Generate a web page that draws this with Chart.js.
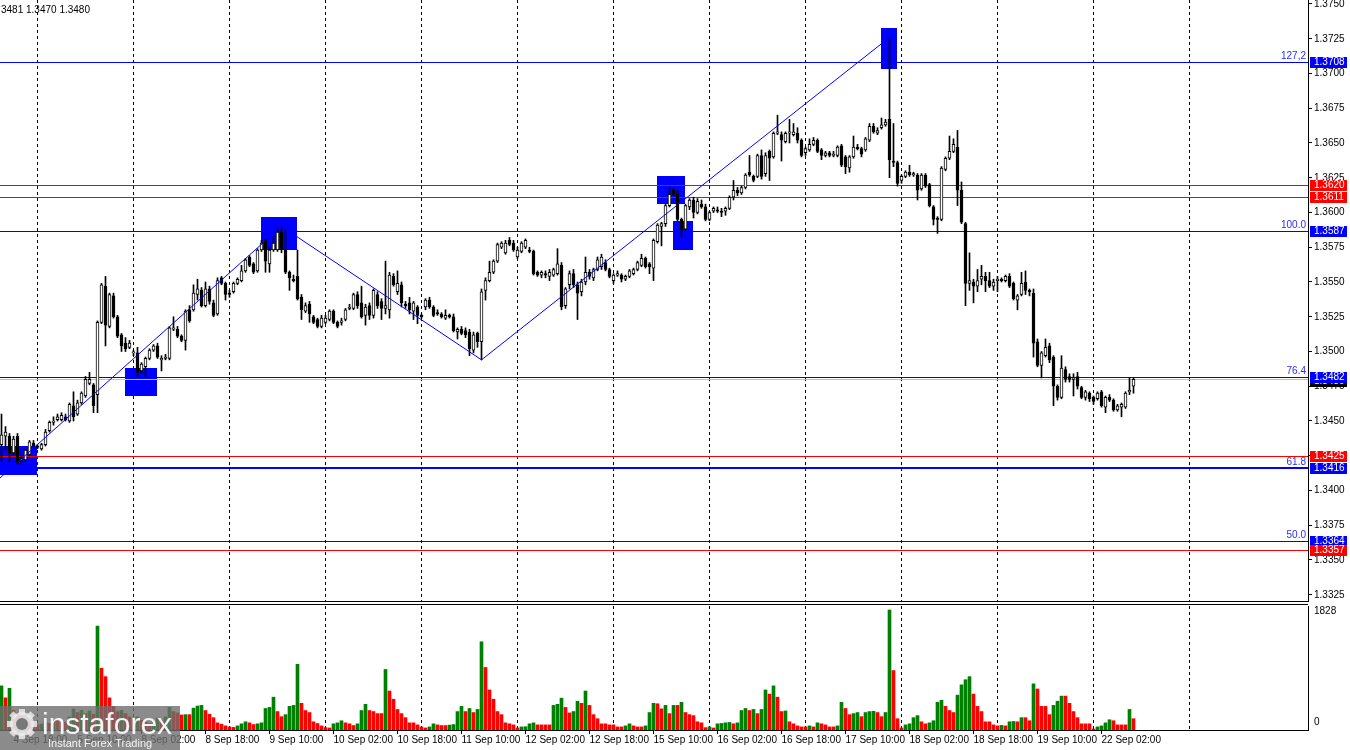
<!DOCTYPE html>
<html>
<head>
<meta charset="utf-8">
<title>GBPUSD H1</title>
<script src="https://cdn.jsdelivr.net/npm/chart.js@4.4.1/dist/chart.umd.min.js"></script>
<style>
    html, body { margin: 0; padding: 0; background: #fff; }
    #wrap { position: relative; width: 1350px; height: 750px; overflow: hidden; background: #fff; }
    #price { position: absolute; left: 0; top: 0; }
    #vol { position: absolute; left: 0; top: 603px; }
</style>
</head>
<body>
<div id="wrap">
    <canvas id="price" width="1350" height="603" style="width:1350px;height:603px"></canvas>
    <canvas id="vol" width="1350" height="147" style="width:1350px;height:147px"></canvas>
</div>
<script>
'use strict'

// H1 candles, index 0 = 4 Sep 15:00 ... index 283 = 22 Sep 10:00
var opens = [
    1.3433,1.3439,1.3439,1.3427,1.3439,1.3422,1.3422,1.3426,1.3434,1.3432,
    1.3430,1.3433,1.3443,1.3449,1.3451,1.3451,1.3453,1.3450,1.3461,1.3455,
    1.3463,1.3468,1.3477,1.3476,1.3469,1.3521,1.3547,1.3518,1.3540,1.3525,
    1.3512,1.3506,1.3503,1.3499,1.3499,1.3486,1.3489,1.3495,1.3501,1.3504,
    1.3494,1.3495,1.3495,1.3516,1.3516,1.3511,1.3508,1.3530,1.3530,1.3541,
    1.3544,1.3533,1.3545,1.3535,1.3527,1.3553,1.3549,1.3542,1.3543,1.3549,
    1.3551,1.3558,1.3568,1.3563,1.3558,1.3573,1.3580,1.3563,1.3573,1.3573,
    1.3586,1.3573,1.3557,1.3552,1.3554,1.3539,1.3529,1.3534,1.3525,1.3523,
    1.3518,1.3521,1.3523,1.3529,1.3521,1.3521,1.3523,1.3531,1.3531,1.3541,
    1.3535,1.3526,1.3533,1.3526,1.3541,1.3536,1.3531,1.3530,1.3554,1.3543,
    1.3548,1.3534,1.3535,1.3529,1.3532,1.3526,1.3532,1.3537,1.3532,1.3528,
    1.3527,1.3524,1.3526,1.3525,1.3514,1.3516,1.3515,1.3514,1.3501,1.3513,
    1.3507,1.3544,1.3551,1.3557,1.3565,1.3575,1.3571,1.3580,1.3578,1.3568,
    1.3572,1.3575,1.3573,1.3572,1.3557,1.3555,1.3556,1.3554,1.3555,1.3556,
    1.3562,1.3533,1.3548,1.3556,1.3548,1.3543,1.3550,1.3557,1.3553,1.3559,
    1.3561,1.3564,1.3559,1.3551,1.3555,1.3555,1.3552,1.3554,1.3556,1.3559,
    1.3562,1.3567,1.3563,1.3560,1.3579,1.3590,1.3592,1.3605,1.3616,1.3614,
    1.3595,1.3588,1.3604,1.3609,1.3600,1.3606,1.3604,1.3595,1.3601,1.3602,
    1.3601,1.3601,1.3603,1.3611,1.3616,1.3614,1.3618,1.3629,1.3626,1.3626,
    1.3641,1.3628,1.3644,1.3640,1.3657,1.3656,1.3651,1.3657,1.3656,1.3657,
    1.3652,1.3643,1.3645,1.3649,1.3652,1.3645,1.3641,1.3643,1.3641,1.3641,
    1.3648,1.3640,1.3632,1.3640,1.3647,1.3646,1.3645,1.3652,1.3662,1.3657,
    1.3661,1.3663,1.3667,1.3637,1.3636,1.3623,1.3626,1.3629,1.3627,1.3627,
    1.3617,1.3627,1.3620,1.3604,1.3596,1.3595,1.3631,1.3639,1.3644,1.3647,
    1.3616,1.3592,1.3549,1.3550,1.3547,1.3552,1.3554,1.3551,1.3547,1.3551,
    1.3552,1.3551,1.3554,1.3549,1.3537,1.3541,1.3550,1.3544,1.3542,1.3507,
    1.3490,1.3497,1.3504,1.3496,1.3475,1.3467,1.3487,1.3482,1.3480,1.3482,
    1.3474,1.3467,1.3470,1.3467,1.3466,1.3471,1.3460,1.3467,1.3465,1.3458,
    1.3460,1.3460,1.3471,1.3475
];
var highs = [
    1.3455,1.3446,1.3441,1.3439,1.3441,1.3425,1.3430,1.3436,1.3436,1.3433,
    1.3434,1.3444,1.3450,1.3453,1.3455,1.3456,1.3455,1.3463,1.3471,1.3465,
    1.3471,1.3482,1.3485,1.3477,1.3522,1.3549,1.3554,1.3542,1.3542,1.3526,
    1.3513,1.3510,1.3508,1.3501,1.3503,1.3492,1.3496,1.3502,1.3505,1.3506,
    1.3497,1.3498,1.3518,1.3525,1.3518,1.3512,1.3530,1.3533,1.3548,1.3552,
    1.3546,1.3550,1.3547,1.3537,1.3553,1.3554,1.3550,1.3544,1.3550,1.3553,
    1.3562,1.3567,1.3569,1.3564,1.3574,1.3580,1.3581,1.3575,1.3583,1.3589,
    1.3590,1.3587,1.3558,1.3555,1.3573,1.3541,1.3535,1.3536,1.3526,1.3524,
    1.3526,1.3526,1.3530,1.3530,1.3522,1.3524,1.3531,1.3534,1.3542,1.3543,
    1.3547,1.3534,1.3535,1.3545,1.3543,1.3538,1.3565,1.3557,1.3556,1.3558,
    1.3550,1.3536,1.3539,1.3536,1.3533,1.3527,1.3538,1.3539,1.3533,1.3530,
    1.3528,1.3530,1.3527,1.3527,1.3517,1.3518,1.3517,1.3516,1.3514,1.3514,
    1.3545,1.3553,1.3565,1.3566,1.3578,1.3579,1.3580,1.3582,1.3580,1.3575,
    1.3579,1.3581,1.3575,1.3573,1.3558,1.3558,1.3558,1.3559,1.3560,1.3574,
    1.3564,1.3546,1.3558,1.3559,1.3550,1.3552,1.3568,1.3559,1.3560,1.3568,
    1.3570,1.3566,1.3560,1.3556,1.3558,1.3556,1.3555,1.3559,1.3560,1.3565,
    1.3570,1.3568,1.3564,1.3581,1.3592,1.3593,1.3606,1.3618,1.3618,1.3616,
    1.3596,1.3606,1.3610,1.3611,1.3610,1.3609,1.3606,1.3601,1.3604,1.3604,
    1.3603,1.3604,1.3612,1.3623,1.3618,1.3619,1.3628,1.3641,1.3627,1.3642,
    1.3645,1.3643,1.3645,1.3658,1.3670,1.3658,1.3658,1.3667,1.3664,1.3661,
    1.3653,1.3647,1.3653,1.3654,1.3653,1.3646,1.3644,1.3644,1.3644,1.3648,
    1.3649,1.3641,1.3641,1.3655,1.3649,1.3647,1.3654,1.3664,1.3664,1.3661,
    1.3668,1.3667,1.3725,1.3664,1.3637,1.3627,1.3630,1.3634,1.3629,1.3628,
    1.3628,1.3628,1.3621,1.3605,1.3597,1.3633,1.3640,1.3655,1.3653,1.3659,
    1.3622,1.3593,1.3571,1.3552,1.3559,1.3562,1.3557,1.3557,1.3552,1.3554,
    1.3553,1.3555,1.3556,1.3550,1.3541,1.3557,1.3558,1.3545,1.3545,1.3509,
    1.3500,1.3509,1.3506,1.3497,1.3476,1.3497,1.3489,1.3484,1.3484,1.3485,
    1.3475,1.3472,1.3471,1.3468,1.3471,1.3472,1.3468,1.3469,1.3466,1.3462,
    1.3463,1.3471,1.3481,1.3481
];
var lows = [
    1.3421,1.3429,1.3421,1.3425,1.3419,1.3419,1.3421,1.3425,1.3431,1.3430,
    1.3429,1.3432,1.3442,1.3447,1.3450,1.3450,1.3450,1.3449,1.3450,1.3454,
    1.3462,1.3467,1.3476,1.3456,1.3456,1.3520,1.3504,1.3517,1.3524,1.3510,
    1.3500,1.3500,1.3502,1.3497,1.3482,1.3484,1.3482,1.3494,1.3500,1.3495,
    1.3486,1.3494,1.3494,1.3515,1.3510,1.3507,1.3501,1.3521,1.3529,1.3537,
    1.3532,1.3532,1.3534,1.3525,1.3526,1.3548,1.3537,1.3539,1.3542,1.3548,
    1.3550,1.3557,1.3561,1.3556,1.3557,1.3572,1.3557,1.3557,1.3572,1.3572,
    1.3571,1.3556,1.3544,1.3550,1.3537,1.3523,1.3528,1.3521,1.3520,1.3517,
    1.3517,1.3520,1.3522,1.3520,1.3517,1.3519,1.3522,1.3530,1.3530,1.3531,
    1.3524,1.3519,1.3523,1.3524,1.3531,1.3523,1.3527,1.3524,1.3547,1.3541,
    1.3532,1.3531,1.3527,1.3523,1.3520,1.3524,1.3530,1.3531,1.3525,1.3526,
    1.3524,1.3523,1.3524,1.3514,1.3509,1.3512,1.3510,1.3497,1.3499,1.3503,
    1.3494,1.3537,1.3550,1.3556,1.3564,1.3574,1.3570,1.3576,1.3572,1.3567,
    1.3571,1.3574,1.3571,1.3555,1.3554,1.3553,1.3553,1.3551,1.3554,1.3555,
    1.3530,1.3531,1.3545,1.3546,1.3523,1.3540,1.3548,1.3552,1.3551,1.3558,
    1.3559,1.3558,1.3553,1.3549,1.3554,1.3550,1.3551,1.3553,1.3555,1.3558,
    1.3561,1.3560,1.3556,1.3551,1.3578,1.3576,1.3590,1.3604,1.3612,1.3594,
    1.3582,1.3587,1.3602,1.3596,1.3599,1.3603,1.3594,1.3594,1.3600,1.3600,
    1.3597,1.3598,1.3602,1.3609,1.3612,1.3613,1.3617,1.3626,1.3622,1.3625,
    1.3624,1.3626,1.3623,1.3639,1.3656,1.3637,1.3650,1.3650,1.3655,1.3650,
    1.3640,1.3641,1.3644,1.3648,1.3643,1.3638,1.3640,1.3640,1.3640,1.3640,
    1.3633,1.3628,1.3629,1.3639,1.3645,1.3640,1.3644,1.3651,1.3657,1.3656,
    1.3660,1.3662,1.3625,1.3633,1.3619,1.3621,1.3625,1.3626,1.3626,1.3609,
    1.3616,1.3618,1.3604,1.3591,1.3585,1.3594,1.3630,1.3638,1.3643,1.3605,
    1.3592,1.3533,1.3544,1.3535,1.3543,1.3548,1.3543,1.3546,1.3544,1.3543,
    1.3550,1.3550,1.3546,1.3537,1.3530,1.3540,1.3541,1.3540,1.3496,1.3489,
    1.3481,1.3496,1.3492,1.3461,1.3465,1.3466,1.3478,1.3478,1.3468,1.3473,
    1.3466,1.3465,1.3464,1.3462,1.3465,1.3460,1.3456,1.3464,1.3457,1.3457,
    1.3453,1.3459,1.3469,1.3470
];
var closes = [
    1.3440,1.3442,1.3427,1.3437,1.3420,1.3423,1.3429,1.3435,1.3432,1.3431,
    1.3433,1.3442,1.3449,1.3450,1.3453,1.3454,1.3451,1.3462,1.3453,1.3463,
    1.3470,1.3480,1.3480,1.3461,1.3521,1.3548,1.3519,1.3541,1.3525,1.3511,
    1.3504,1.3502,1.3506,1.3499,1.3485,1.3491,1.3495,1.3501,1.3504,1.3496,
    1.3495,1.3496,1.3517,1.3517,1.3511,1.3508,1.3529,1.3522,1.3542,1.3545,
    1.3533,1.3545,1.3536,1.3526,1.3551,1.3549,1.3541,1.3541,1.3549,1.3552,
    1.3558,1.3566,1.3562,1.3557,1.3573,1.3578,1.3565,1.3573,1.3578,1.3586,
    1.3573,1.3557,1.3553,1.3551,1.3538,1.3530,1.3533,1.3527,1.3521,1.3518,
    1.3524,1.3524,1.3529,1.3521,1.3518,1.3522,1.3530,1.3532,1.3541,1.3533,
    1.3525,1.3532,1.3526,1.3544,1.3533,1.3531,1.3533,1.3555,1.3548,1.3549,
    1.3535,1.3533,1.3530,1.3535,1.3526,1.3525,1.3537,1.3532,1.3526,1.3527,
    1.3525,1.3526,1.3525,1.3515,1.3516,1.3513,1.3512,1.3502,1.3512,1.3507,
    1.3543,1.3551,1.3557,1.3565,1.3577,1.3578,1.3578,1.3577,1.3573,1.3573,
    1.3578,1.3580,1.3572,1.3556,1.3555,1.3557,1.3555,1.3557,1.3559,1.3563,
    1.3532,1.3545,1.3556,1.3548,1.3542,1.3550,1.3557,1.3554,1.3559,1.3566,
    1.3568,1.3559,1.3554,1.3555,1.3556,1.3552,1.3554,1.3558,1.3559,1.3564,
    1.3567,1.3561,1.3561,1.3580,1.3591,1.3592,1.3605,1.3613,1.3613,1.3595,
    1.3588,1.3605,1.3609,1.3600,1.3608,1.3604,1.3595,1.3600,1.3603,1.3601,
    1.3600,1.3603,1.3611,1.3616,1.3614,1.3618,1.3627,1.3627,1.3623,1.3641,
    1.3626,1.3641,1.3639,1.3657,1.3658,1.3652,1.3657,1.3658,1.3658,1.3652,
    1.3641,1.3646,1.3649,1.3652,1.3644,1.3641,1.3643,1.3641,1.3642,1.3647,
    1.3634,1.3633,1.3640,1.3647,1.3646,1.3642,1.3653,1.3662,1.3658,1.3659,
    1.3663,1.3665,1.3638,1.3636,1.3621,1.3626,1.3629,1.3627,1.3628,1.3616,
    1.3627,1.3619,1.3605,1.3595,1.3595,1.3632,1.3639,1.3644,1.3649,1.3616,
    1.3593,1.3549,1.3551,1.3547,1.3551,1.3554,1.3551,1.3547,1.3550,1.3552,
    1.3551,1.3554,1.3547,1.3538,1.3540,1.3549,1.3544,1.3543,1.3506,1.3490,
    1.3499,1.3503,1.3494,1.3475,1.3467,1.3488,1.3480,1.3480,1.3481,1.3475,
    1.3467,1.3471,1.3466,1.3464,1.3470,1.3461,1.3467,1.3465,1.3458,1.3461,
    1.3462,1.3470,1.3472,1.3480
];
var volumes = [
    672,490,636,300,260,200,150,120,100,80,
    90,120,100,150,140,130,120,200,318,266,
    300,250,290,240,1583,942,813,490,360,280,
    300,250,200,150,200,150,120,100,130,180,
    150,200,344,281,260,229,234,234,333,365,
    375,297,240,188,109,89,63,47,40,63,
    94,125,109,83,94,109,328,344,500,281,
    203,234,360,375,1000,406,297,266,125,99,
    63,36,31,94,109,141,109,94,68,94,
    297,391,297,281,250,250,922,594,469,313,
    250,188,109,109,78,47,31,47,94,78,
    68,68,75,83,281,360,281,328,266,313,
    1344,953,610,469,281,234,109,94,78,31,
    47,50,94,109,78,78,78,78,375,391,
    485,344,260,281,438,406,594,375,234,172,
    94,94,78,78,47,47,63,94,63,47,
    47,63,266,406,400,322,375,250,375,375,
    422,266,234,219,125,109,36,47,31,94,
    100,110,115,94,109,297,328,297,313,250,
    313,610,547,672,500,281,290,125,94,63,
    47,47,63,47,109,94,78,47,47,63,
    422,328,234,250,266,203,266,281,285,266,
    203,266,1828,906,172,31,78,94,188,219,
    125,94,109,141,422,453,360,297,266,531,
    688,766,813,547,360,281,125,125,78,63,
    70,63,125,130,125,188,188,141,703,625,
    360,360,234,375,438,516,516,406,281,188,
    94,94,94,16,47,63,109,156,141,78,
    78,78,313,172
];

var priceTicks = [1.3325,1.3350,1.3375,1.3400,1.3425,1.3450,1.3475,1.3500,1.3525,1.3550,
                  1.3575,1.3600,1.3625,1.3650,1.3675,1.3700,1.3725,1.3750];
var timeTickIdx = [3,19,35,51,67,83,99,115,131,147,163,179,195,211,227,243,259,275];
var timeTickLabels = ['4 Sep 18:00','5 Sep 10:00','8 Sep 02:00','8 Sep 18:00','9 Sep 10:00',
    '10 Sep 02:00','10 Sep 18:00','11 Sep 10:00','12 Sep 02:00','12 Sep 18:00','15 Sep 10:00',
    '16 Sep 02:00','16 Sep 18:00','17 Sep 10:00','18 Sep 02:00','18 Sep 18:00','19 Sep 10:00',
    '22 Sep 02:00'];
var dayLineIdx = [9,33,57,81,105,129,153,177,201,225,249,273,297];

var fibPrices = [1.3708,1.3587,1.3482,1.3416,1.3364];
var fibNames = ['127,2','100.0','76.4','61.8','50.0'];
var redPrices = [1.3620,1.3611,1.3425,1.3357];
var bidPrice = 1.3480;

var zigzagIdx = [-0.375,70,120,222];
var zigzagPrice = [1.3409,1.3590,1.3494,1.3726];

var zoneFrom = [-0.375,30.875,64.875,163.875,167.875,219.875];
var zoneTo = [8.875,38.875,73.875,170.875,172.875,223.875];
var zoneTop = [1.3432,1.3488,1.3597,1.3626,1.3594,1.3733];
var zoneBottom = [1.3411,1.3468,1.3573,1.3606,1.3573,1.3703];

var headerText = '3481 1.3470 1.3480';
var volTopLabel = 1828;

(function () {

    var FONT = 'Liberation Sans';
    Chart.defaults.font.family = FONT;
    Chart.defaults.font.size = 10;
    Chart.defaults.color = '#000';

    var X_MIN = -0.375, X_MAX = 326.625;
    var Y_MAX = 1.3750 + 4 / 13900;
    var Y_MIN = Y_MAX - 601 / 13900;
    var VOL_MAX = 1828 * 124 / 120;

    var BLUE = '#0000ff', RED = '#ff0000';

    var wickData = opens.map(function (o, i) {
        return { x: i, y: [Math.min(lows[i], o, closes[i]), Math.max(highs[i], o, closes[i])] };
    });
    var bodyData = opens.map(function (o, i) {
        return { x: i, y: [o, closes[i]] };
    });
    var zigzagData = zigzagIdx.map(function (x, i) {
        return { x: x, y: zigzagPrice[i] };
    });

    function hline(ctx, x1, x2, y) {
        ctx.beginPath(); ctx.moveTo(x1, y); ctx.lineTo(x2, y); ctx.stroke();
    }

    function dayLines(chart) {
        var ctx = chart.ctx, a = chart.chartArea, xs = chart.scales.x;
        ctx.save();
        ctx.strokeStyle = '#000';
        ctx.lineWidth = 1;
        ctx.setLineDash([3, 3]);
        dayLineIdx.forEach(function (d) {
            var px = Math.floor(xs.getPixelForValue(d)) + 0.5;
            ctx.beginPath(); ctx.moveTo(px, a.top); ctx.lineTo(px, a.bottom); ctx.stroke();
        });
        ctx.restore();
    }

    function axisBox(ctx, a, y, color, text) {
        ctx.fillStyle = color;
        ctx.fillRect(a.right + 2, Math.round(y) - 5, 37, 11);
        ctx.fillStyle = '#fff';
        ctx.textAlign = 'left';
        ctx.textBaseline = 'middle';
        ctx.fillText(text, a.right + 6, Math.round(y) + 0.5);
    }

    var priceDeco = {
        id: 'priceDeco',
        beforeDatasetsDraw: function (chart) {
            var ctx = chart.ctx, a = chart.chartArea, xs = chart.scales.x, ys = chart.scales.y;
            dayLines(chart);
            ctx.save();
            // zones
            ctx.fillStyle = BLUE;
            for (var k = 0; k < zoneFrom.length; k++) {
                var x1 = Math.round(xs.getPixelForValue(zoneFrom[k]));
                var x2 = Math.round(xs.getPixelForValue(zoneTo[k]));
                var y1 = Math.round(ys.getPixelForValue(zoneTop[k]));
                var y2 = Math.round(ys.getPixelForValue(zoneBottom[k]));
                ctx.fillRect(x1, y1, x2 - x1, y2 - y1);
            }
            // bid line
            ctx.strokeStyle = '#c0c0c0';
            ctx.lineWidth = 1;
            hline(ctx, a.left, a.right, Math.round(ys.getPixelForValue(bidPrice)) + 0.5);
            // levels
            ctx.strokeStyle = RED;
            redPrices.forEach(function (p) {
                hline(ctx, a.left, a.right, Math.round(ys.getPixelForValue(p)) + 0.5);
            });
            ctx.strokeStyle = BLUE;
            fibPrices.forEach(function (p, i) {
                if (fibNames[i] === '61.8') {
                    ctx.lineWidth = 2;
                    hline(ctx, a.left, a.right, Math.round(ys.getPixelForValue(p)));
                    ctx.lineWidth = 1;
                } else {
                    hline(ctx, a.left, a.right, Math.round(ys.getPixelForValue(p)) + 0.5);
                }
            });
            ctx.restore();
        },
        afterDraw: function (chart) {
            var ctx = chart.ctx, a = chart.chartArea, ys = chart.scales.y;
            ctx.save();
            ctx.strokeStyle = '#000';
            ctx.lineWidth = 1;
            hline(ctx, 0, a.right, a.bottom + 0.5);

            ctx.font = '10px ' + FONT;
            // fibo ratio texts
            ctx.fillStyle = '#2b2bff';
            ctx.textAlign = 'right';
            ctx.textBaseline = 'bottom';
            fibPrices.forEach(function (p, i) {
                ctx.fillText(fibNames[i], a.right - 2, Math.round(ys.getPixelForValue(p)) - 1);
            });
            // price labels on the axis
            axisBox(ctx, a, ys.getPixelForValue(bidPrice) + 2, '#000', bidPrice.toFixed(4));
            fibPrices.forEach(function (p) {
                axisBox(ctx, a, ys.getPixelForValue(p), BLUE, p.toFixed(4));
            });
            redPrices.forEach(function (p) {
                axisBox(ctx, a, ys.getPixelForValue(p), RED, p.toFixed(4));
            });
            // header
            ctx.fillStyle = '#000';
            ctx.textAlign = 'left';
            ctx.textBaseline = 'middle';
            ctx.fillText(headerText, 1, 10);
            ctx.restore();
        }
    };

    new Chart(document.getElementById('price'), {
        type: 'bar',
        data: {
            datasets: [{
                type: 'line',
                data: zigzagData,
                borderColor: BLUE,
                borderWidth: 1,
                pointRadius: 0,
                tension: 0,
                fill: false,
                order: 0
            }, {
                data: bodyData,
                backgroundColor: function (c) {
                    var i = c.dataIndex;
                    return closes[i] >= opens[i] ? '#fff' : '#000';
                },
                borderColor: '#000',
                borderWidth: 1,
                borderSkipped: false,
                barThickness: 3,
                minBarLength: 1,
                grouped: false,
                order: 1
            }, {
                data: wickData,
                backgroundColor: '#000',
                borderWidth: 0,
                barThickness: 1,
                grouped: false,
                order: 2
            }]
        },
        options: {
            responsive: false,
            animation: false,
            devicePixelRatio: 1,
            layout: { padding: { left: 0, right: 0, top: 0, bottom: 2 } },
            plugins: { legend: { display: false }, tooltip: { enabled: false } },
            scales: {
                x: { type: 'linear', min: X_MIN, max: X_MAX, offset: false, display: false },
                y: {
                    position: 'right',
                    min: Y_MIN,
                    max: Y_MAX,
                    afterBuildTicks: function (s) {
                        s.ticks = priceTicks.map(function (v) { return { value: v }; });
                    },
                    afterFit: function (s) {
                        s.width = 42; s.paddingTop = 0; s.paddingBottom = 0;
                    },
                    ticks: {
                        autoSkip: false,
                        padding: 2,
                        color: '#000',
                        font: { size: 10 },
                        callback: function (v) { return Number(v).toFixed(4); }
                    },
                    grid: { drawOnChartArea: false, drawTicks: true, tickLength: 4, color: '#000' },
                    border: { display: true, color: '#000', width: 1 }
                }
            }
        },
        plugins: [priceDeco]
    });

    function volColor(i) {
        return (i === 0 || volumes[i] > volumes[i - 1]) ? '#008000' : RED;
    }

    function drawLogo(ctx) {
        ctx.save();
        ctx.fillStyle = 'rgba(110,110,110,0.8)';
        ctx.fillRect(0, 103, 180, 44);
        var cx = 22, cy = 121, r = 12;
        ctx.fillStyle = 'rgba(235,235,235,0.85)';
        for (var k = 0; k < 8; k++) {
            ctx.save();
            ctx.translate(cx, cy);
            ctx.rotate(k * Math.PI / 4);
            ctx.fillRect(-3, -r - 3, 6, 6);
            ctx.restore();
        }
        ctx.beginPath(); ctx.arc(cx, cy, r, 0, Math.PI * 2); ctx.fill();
        ctx.fillStyle = 'rgb(120,120,120)';
        ctx.beginPath(); ctx.arc(cx, cy, 6, 0, Math.PI * 2); ctx.fill();
        ctx.fillStyle = '#f4f4f4';
        ctx.textAlign = 'left';
        ctx.textBaseline = 'alphabetic';
        ctx.font = '30px ' + FONT;
        ctx.fillText('instaforex', 42, 131);
        ctx.font = '11px ' + FONT;
        ctx.fillText('Instant Forex Trading', 48, 144);
        ctx.restore();
    }

    var volDeco = {
        id: 'volDeco',
        beforeDatasetsDraw: function (chart) {
            dayLines(chart);
        },
        afterDraw: function (chart) {
            var ctx = chart.ctx, a = chart.chartArea, ys = chart.scales.y;
            ctx.save();
            ctx.strokeStyle = '#000';
            ctx.lineWidth = 1;
            hline(ctx, 0, a.right, 1.5);
            ctx.fillStyle = '#000';
            ctx.font = '10px ' + FONT;
            ctx.textAlign = 'left';
            ctx.textBaseline = 'middle';
            ctx.fillText(String(volTopLabel), a.right + 6, ys.getPixelForValue(volTopLabel) + 1);
            ctx.fillText('0', a.right + 6, ys.getPixelForValue(0) - 8);
            ctx.restore();
            drawLogo(ctx);
        }
    };

    new Chart(document.getElementById('vol'), {
        type: 'bar',
        data: {
            datasets: [{
                data: volumes.map(function (v, i) { return { x: i, y: v }; }),
                backgroundColor: function (c) { return volColor(c.dataIndex); },
                borderWidth: 0,
                barThickness: 3
            }]
        },
        options: {
            responsive: false,
            animation: false,
            devicePixelRatio: 1,
            layout: { padding: { left: 0, right: 0, top: 3, bottom: 0 } },
            plugins: { legend: { display: false }, tooltip: { enabled: false } },
            scales: {
                x: {
                    type: 'linear',
                    min: X_MIN,
                    max: X_MAX,
                    offset: false,
                    position: 'bottom',
                    afterBuildTicks: function (s) {
                        s.ticks = timeTickIdx.map(function (v) { return { value: v }; });
                    },
                    afterFit: function (s) {
                        s.height = 20; s.paddingLeft = 0; s.paddingRight = 0;
                    },
                    ticks: {
                        autoSkip: false,
                        maxRotation: 0,
                        minRotation: 0,
                        align: 'start',
                        padding: 0,
                        color: '#000',
                        font: { size: 10 },
                        callback: function (v, i) { return timeTickLabels[i]; }
                    },
                    grid: { drawOnChartArea: false, drawTicks: true, tickLength: 4, color: '#000', offset: false },
                    border: { display: true, color: '#000', width: 1 }
                },
                y: {
                    position: 'right',
                    min: 0,
                    max: VOL_MAX,
                    afterFit: function (s) {
                        s.width = 42; s.paddingTop = 0; s.paddingBottom = 0;
                    },
                    ticks: { display: false },
                    grid: { display: false },
                    border: { display: true, color: '#000', width: 1 }
                }
            }
        },
        plugins: [volDeco]
    });

})();
</script>
</body>
</html>
